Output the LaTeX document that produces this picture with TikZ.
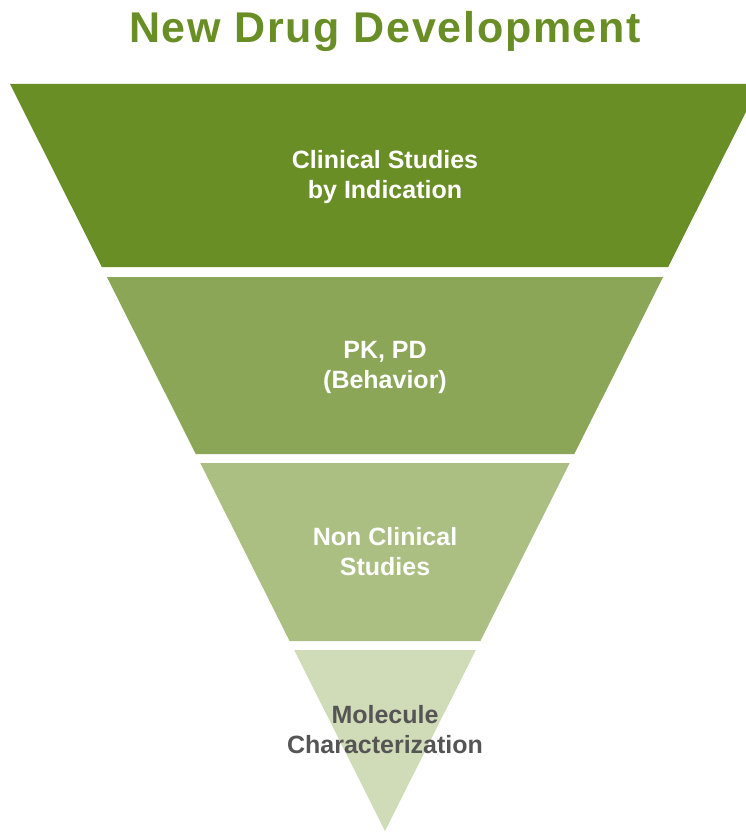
\documentclass[tikz,border=0pt]{standalone}
\usepackage{fontspec}
\setmainfont{Liberation Sans}
\newfontfamily\titlefont[LetterSpace=4]{Liberation Sans}

\definecolor{drugdark}{RGB}{106,142,38}
\definecolor{drugmid}{RGB}{138,166,86}
\definecolor{druglight}{RGB}{171,191,131}
\definecolor{drugpale}{RGB}{208,220,183}
\definecolor{labelgrey}{RGB}{85,85,85}

\tikzset{
  bandlabel/.style={align=center, text=white,
    font=\fontsize{25}{30}\selectfont\bfseries},
}

\begin{document}
\begin{tikzpicture}[x=1pt, y=-1pt]
    \useasboundingbox (0,0) rectangle (746,832);
    \clip (0,0) rectangle (746,832);
    % apex of the funnel and how much each side moves in per unit of height
    \def\ax{385}
    \def\ay{831}
    \def\k{0.502}
    \foreach \t/\b/\c in {84/267/drugdark, 277/454/drugmid,
                          463/641/druglight, 650/831/drugpale}{
        % the band is the part of the big triangle between y=\t and y=\b
        \fill[\c] ({\ax-(\ay-\t)*\k},\t) -- ({\ax+(\ay-\t)*\k},\t)
            -- ({\ax+(\ay-\b)*\k},\b) -- ({\ax-(\ay-\b)*\k},\b) -- cycle;
    }
    \node (title) at (385,43) [anchor=base, text=drugdark,
        font=\titlefont\fontsize{43}{48}\selectfont\bfseries] {New Drug Development};
    \node (clinical) at (385,177) [bandlabel] {Clinical Studies\\by Indication};
    \node (pkpd) at (385,367) [bandlabel] {PK, PD\\(Behavior)};
    \node (nonclinical) at (385,552) [bandlabel] {Non Clinical\\Studies};
    \node (molecule) at (385,730) [bandlabel, text=labelgrey]
        {Molecule\\Characterization};
\end{tikzpicture}
\end{document}
